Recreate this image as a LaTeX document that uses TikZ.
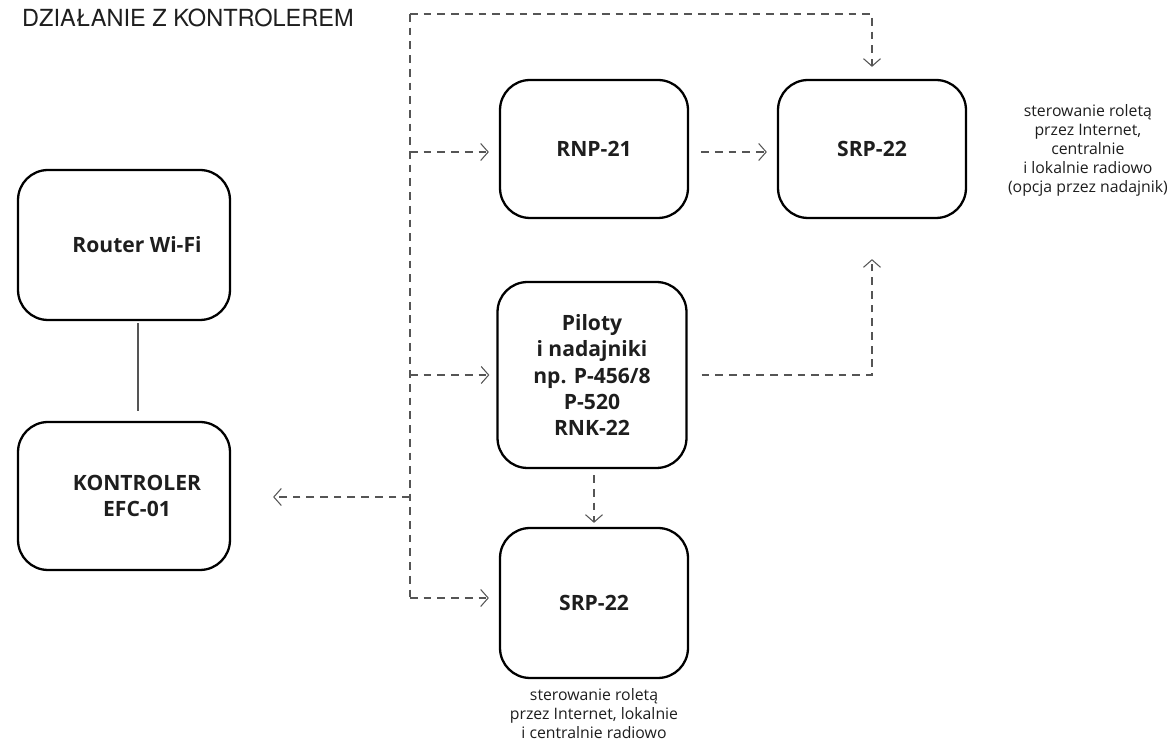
\documentclass[tikz,border=0pt]{standalone}
\usepackage{fontspec}
\setmainfont{Open Sans}
\newfontfamily\titlefont{TeX Gyre Heros}
\usepackage{xcolor}
\usetikzlibrary{arrows.meta,positioning,calc}
\definecolor{DiagLine}{RGB}{85,85,85}
\definecolor{DiagText}{RGB}{30,30,30}

\begin{document}
\begin{tikzpicture}[
    x=0.02cm, y=-0.02cm,
    unit/.style={rounded corners=0.6cm, draw=black, line width=1.3pt, minimum width=3.76cm, minimum height=2.76cm, align=center, font=\fontsize{12}{15}\selectfont\bfseries, text=DiagText},
    shifted/.style={label={[align=center, font=\fontsize{12}{15}\selectfont\bfseries, text=DiagText, xshift=0.26cm]center:#1}},
    note/.style={align=center, font=\fontsize{9}{10.8}\selectfont, text=DiagText},
    link/.style={dash pattern=on 4.4pt off 3.4pt, draw=DiagLine, line width=0.6pt},
    arrow/.style={link, -{Straight Barb[length=1.5mm, width=3.4mm]}}
  ]
    \useasboundingbox (0,0) rectangle (1174,742);
    \node[anchor=west, font=\titlefont\fontsize{13.4}{15}\selectfont, text=DiagText] (title) at (16,18) {DZIAŁANIE Z KONTROLEREM};
    % left column
    \node[unit, minimum width=4.24cm, minimum height=3cm, shifted={Router Wi-Fi}] (router) at (124,245) {};
    \node[unit, minimum width=4.24cm, minimum height=2.96cm, shifted={KONTROLER\\EFC-01}] (kontroler) at (124,496) {};
    \draw[DiagLine, line width=0.6pt] ([xshift=0.28cm, yshift=-0.04cm]router.south) -- ([xshift=0.28cm, yshift=0.2cm]kontroler.north);
    % right part
    \node[unit] (rnp) at (594,149) {RNP-21};
    \node[unit] (srptop) at (872,149) {SRP-22};
    \node[unit, minimum width=3.78cm, minimum height=3.72cm] (piloty) at (592,375) {Piloty\\i nadajniki\\np. P-456/8\\P-520\\RNK-22};
    \node[unit, minimum height=3cm] (srpbot) at (594,603) {SRP-22};
    \node[note, anchor=east] (notetop) at (1174,150) {sterowanie roletą\\przez Internet,\\centralnie\\i lokalnie radiowo\\(opcja przez nadajnik)};
    \node[note, below=0.06cm of srpbot] (notebot) {sterowanie roletą\\przez Internet, lokalnie\\i centralnie radiowo};
    % trunk and branches
    \coordinate (top) at (410,14);
    \coordinate (bottom) at (410,598);
    \draw[link] (top) -- (bottom);
    \draw[arrow] (top) -| ([yshift=0.24cm]srptop.north);
    \draw[arrow] (410,152) -- ([xshift=-0.2cm]rnp.west |- 0,152);
    \draw[arrow] ([xshift=0.24cm]rnp.east |- 0,152) -- ([xshift=-0.2cm]srptop.west |- 0,152);
    \draw[arrow] (410,375) -- ([xshift=-0.14cm]piloty.west);
    \draw[arrow] ([xshift=0.28cm]piloty.east) -| ([yshift=-0.8cm]srptop.south);
    \draw[arrow] (410,497) -- ([xshift=0.84cm]kontroler.east |- 0,497);
    \draw[arrow] ([yshift=-0.12cm]piloty.south -| 594,0) -- ([yshift=0.08cm]srpbot.north);
    \draw[arrow] (bottom) -- ([xshift=-0.2cm]srpbot.west |- 0,598);
  \end{tikzpicture}
\end{document}
